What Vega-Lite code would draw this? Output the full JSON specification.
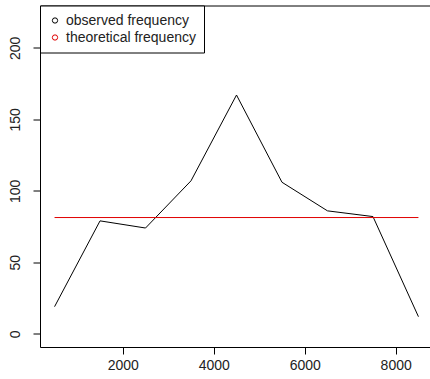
{
  "$schema": "https://vega.github.io/schema/vega-lite/v6.json",
  "autosize": {"type": "none"},
  "padding": {"left": 40, "top": 5.5, "right": 0, "bottom": 32},
  "width": 393,
  "height": 341.5,
  "background": "white",
  "config": {
    "view": {"stroke": "black", "strokeWidth": 1},
    "font": "Liberation Sans",
    "axis": {
      "domain": false,
      "grid": false,
      "tickColor": "black",
      "tickSize": 7,
      "tickWidth": 1,
      "labelFont": "Liberation Sans",
      "labelFontSize": 14,
      "labelColor": "#222",
      "title": null
    },
    "legend": {
      "orient": "none",
      "legendX": 0,
      "legendY": 0,
      "strokeColor": "black",
      "strokeWidth": 1,
      "fillColor": "white",
      "padding": 8,
      "cornerRadius": 0,
      "symbolType": "circle",
      "symbolSize": 28,
      "symbolStrokeWidth": 1,
      "symbolFillColor": "transparent",
      "labelFont": "Liberation Sans",
      "labelFontSize": 14,
      "labelColor": "#222",
      "labelOffset": 4,
      "rowPadding": 3,
      "title": null
    }
  },
  "datasets": {
    "obs": [
      {"x": 500, "freq": 19, "series": "observed frequency"},
      {"x": 1500, "freq": 79, "series": "observed frequency"},
      {"x": 2500, "freq": 74, "series": "observed frequency"},
      {"x": 3500, "freq": 107, "series": "observed frequency"},
      {"x": 4500, "freq": 167, "series": "observed frequency"},
      {"x": 5500, "freq": 106, "series": "observed frequency"},
      {"x": 6500, "freq": 86, "series": "observed frequency"},
      {"x": 7500, "freq": 82, "series": "observed frequency"},
      {"x": 8500, "freq": 12, "series": "observed frequency"}
    ],
    "theo": [
      {"x": 500, "freq": 81.33, "series": "theoretical frequency"},
      {"x": 8500, "freq": 81.33, "series": "theoretical frequency"}
    ]
  },
  "layer": [
    {
      "data": {"name": "obs"},
      "mark": {"type": "line", "strokeWidth": 1},
      "encoding": {
        "x": {"field": "x", "type": "quantitative", "scale": {"domain": [180, 8820], "nice": false, "zero": false}, "axis": {"values": [2000, 4000, 6000, 8000], "format": "d", "labelPadding": 4}},
        "y": {"field": "freq", "type": "quantitative", "scale": {"domain": [-9.2, 229.6], "nice": false, "zero": false}, "axis": {"values": [0, 50, 100, 150, 200], "format": "d", "labelAngle": 270, "labelAlign": "center", "labelBaseline": "bottom", "labelPadding": 11}},
        "color": {"field": "series", "type": "nominal", "scale": {"domain": ["observed frequency", "theoretical frequency"], "range": ["black", "#e00000"]}}
      }
    },
    {
      "data": {"name": "theo"},
      "mark": {"type": "line", "strokeWidth": 1},
      "encoding": {
        "x": {"field": "x", "type": "quantitative"},
        "y": {"field": "freq", "type": "quantitative"},
        "color": {"field": "series", "type": "nominal"}
      }
    }
  ]
}
